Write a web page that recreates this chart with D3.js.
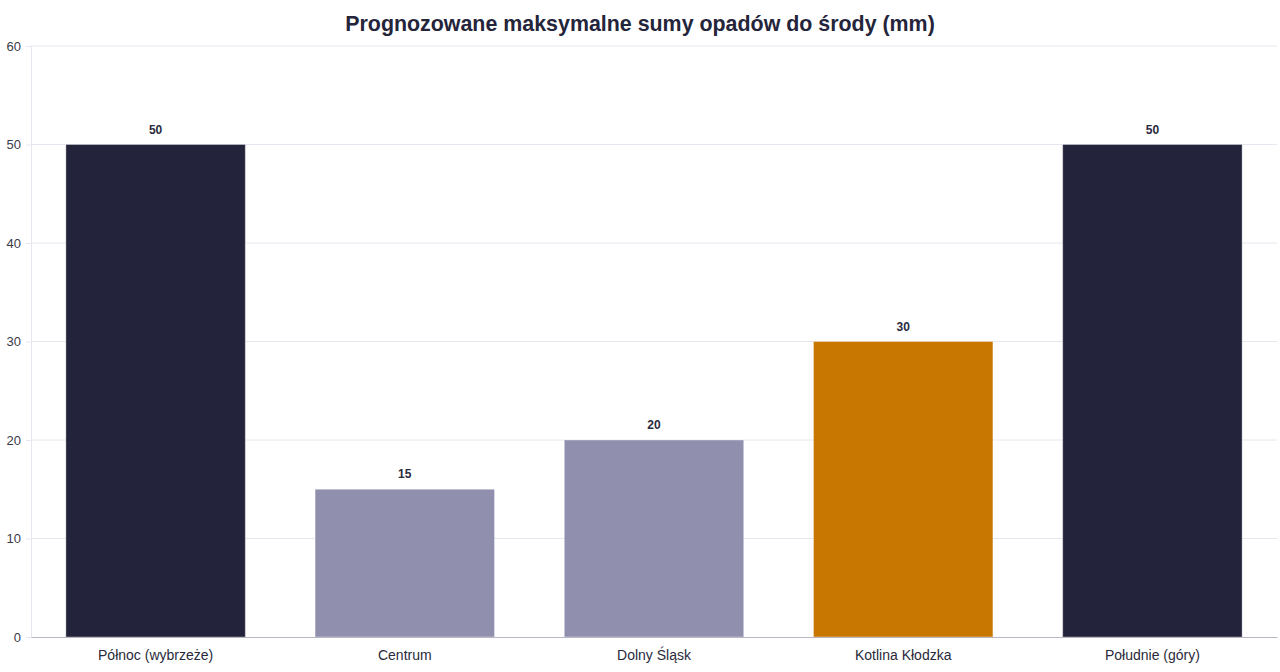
<!DOCTYPE html>
<html>
<head>
<meta charset="utf-8">
<script src="https://cdn.jsdelivr.net/npm/d3@7"></script>
<style>
  html, body { margin: 0; padding: 0; background: #fff; }
  body { font-family: "Liberation Sans", Arial, sans-serif; }
</style>
</head>
<body>
<div id="chart"></div>
<script>
// forecast max precipitation by region (mm)
const regions = ['Północ (wybrzeże)', 'Centrum', 'Dolny Śląsk', 'Kotlina Kłodzka', 'Południe (góry)'];
const rainfall = [50, 15, 20, 30, 50];
const barColors = ['#23233b', '#9090ae', '#9090ae', '#c87800', '#23233b'];
const yTicks = [0, 10, 20, 30, 40, 50, 60];

const W = 1280, H = 672;
const M = { top: 46, right: 3, bottom: 35, left: 31 };

const svg = d3.select('#chart').append('svg')
  .attr('width', W).attr('height', H);

svg.append('text')
  .attr('x', W / 2).attr('y', 31)
  .attr('text-anchor', 'middle')
  .attr('font-size', 21.4).attr('font-weight', 'bold')
  .attr('fill', '#24243a')
  .text('Prognozowane maksymalne sumy opadów do środy (mm)');

const x = d3.scaleBand().domain(regions)
  .range([M.left, W - M.right]).paddingInner(0.28).paddingOuter(0.14);
const y = d3.scaleLinear().domain([0, 60]).range([H - M.bottom, M.top]);

// gridlines
svg.append('g').selectAll('line').data(yTicks.filter(d => d > 0)).join('line')
  .attr('x1', M.left).attr('x2', W - M.right)
  .attr('y1', d => y(d)).attr('y2', d => y(d))
  .attr('stroke', '#e6e6f0').attr('stroke-width', 1);

// y axis
const yAxis = svg.append('g')
  .attr('transform', `translate(${M.left},0)`)
  .call(d3.axisLeft(y).tickValues(yTicks).tickSize(5).tickPadding(5));
yAxis.select('.domain').attr('stroke', '#e6e6f0');
yAxis.selectAll('.tick line').attr('stroke', '#e6e6f0');
yAxis.selectAll('.tick text').attr('font-size', 13).attr('fill', '#3a3a4a')
  .attr('font-family', '"Liberation Sans", Arial, sans-serif');

// bars
svg.append('g').selectAll('rect').data(regions).join('rect')
  .attr('x', d => x(d))
  .attr('y', (d, i) => y(rainfall[i]))
  .attr('width', x.bandwidth())
  .attr('height', (d, i) => y(0) - y(rainfall[i]))
  .attr('fill', (d, i) => barColors[i])
  .attr('stroke', '#ffffff').attr('stroke-opacity', 0.35).attr('stroke-width', 1);

// value labels
svg.append('g').selectAll('text').data(regions).join('text')
  .attr('x', d => x(d) + x.bandwidth() / 2)
  .attr('y', (d, i) => y(rainfall[i]) - 11)
  .attr('text-anchor', 'middle')
  .attr('font-size', 12).attr('font-weight', 'bold')
  .attr('fill', '#2a2a40')
  .text((d, i) => rainfall[i]);

// x axis
const xAxis = svg.append('g')
  .attr('transform', `translate(0,${H - M.bottom})`)
  .call(d3.axisBottom(x).tickSize(0).tickPadding(13));
xAxis.select('.domain').attr('stroke', '#b8b8c4');
xAxis.selectAll('.tick text').attr('font-size', 14).attr('fill', '#2a2a3a')
  .attr('font-family', '"Liberation Sans", Arial, sans-serif');
</script>
</body>
</html>
